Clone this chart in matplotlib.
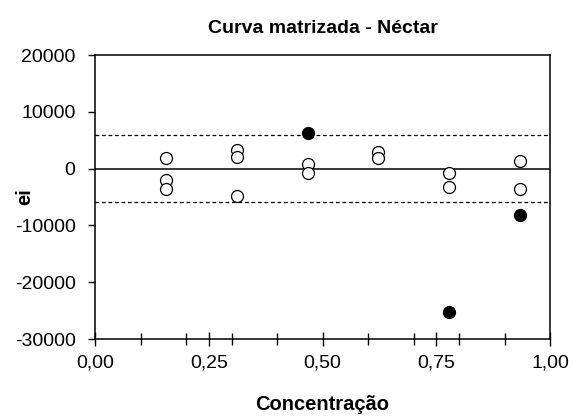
import matplotlib
matplotlib.use("Agg")
import matplotlib.pyplot as plt
from matplotlib.ticker import MultipleLocator, FuncFormatter

plt.rcParams["font.family"] = ["Liberation Sans", "DejaVu Sans"]
plt.rcParams["axes.unicode_minus"] = False

# resíduos (ei) por nível de concentração
conc_normal = [0.156, 0.156, 0.156, 0.311, 0.311, 0.311, 0.467, 0.467,
               0.622, 0.622, 0.778, 0.778, 0.933, 0.933]
ei_normal = [1800, -2000, -3500, 3200, 2100, -4900, 760, -820,
             3000, 1800, -760, -3200, 1280, -3500]

# pontos fora dos limites
conc_outlier = [0.467, 0.778, 0.933]
ei_outlier = [6200, -25200, -8200]

limite = 5850

fig = plt.figure(figsize=(5.76, 4.17), dpi=100)
ax = fig.add_axes([0.165, 0.187, 0.79, 0.681])

ax.axhline(0, color="black", lw=1.1, zorder=1)
ax.axhline(limite, color="black", lw=0.9, ls=(0, (3, 2.2)), zorder=1)
ax.axhline(-limite, color="black", lw=0.9, ls=(0, (3, 2.2)), zorder=1)

ax.plot(conc_normal, ei_normal, "o", ms=8.6, mfc="white", mec="black",
        mew=0.9, zorder=3)
ax.plot(conc_outlier, ei_outlier, "o", ms=8.6, mfc="black", mec="black",
        mew=0.9, zorder=3)

ax.set_xlim(0, 1)
ax.set_ylim(-30000, 20000)
ax.xaxis.set_major_locator(MultipleLocator(0.25))
ax.xaxis.set_minor_locator(MultipleLocator(0.1))
ax.yaxis.set_major_locator(MultipleLocator(10000))
ax.xaxis.set_major_formatter(FuncFormatter(lambda v, p: f"{v:.2f}".replace(".", ",")))
ax.yaxis.set_major_formatter(FuncFormatter(lambda v, p: f"{int(round(v))}"))

ax.tick_params(axis="x", which="major", direction="inout", length=10,
               width=1.0, labelsize=14, pad=6.5)
ax.tick_params(axis="x", which="minor", direction="inout", length=8.5,
               width=1.0)
ax.tick_params(axis="y", which="major", direction="out", length=5,
               width=1.0, labelsize=14, pad=9)

for s in ax.spines.values():
    s.set_linewidth(1.1)

ax.set_title("Curva matrizada - Néctar", fontsize=14, fontweight="bold", pad=16)
ax.set_xlabel("Concentração", fontsize=14.5, fontweight="bold", va="center")
ax.xaxis.set_label_coords(0.5, -0.232)
ax.set_ylabel("ei", fontsize=14.5, fontweight="bold", va="center", ha="center")
ax.yaxis.set_label_coords(-0.154, 0.5)

fig.savefig("out.png", dpi=100)
